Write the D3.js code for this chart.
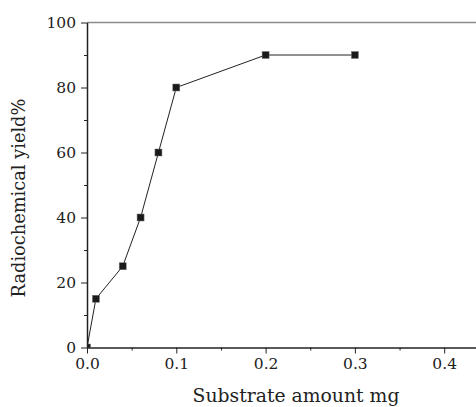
<!DOCTYPE html>
<html>
<head>
<meta charset="utf-8">
<script src="https://cdn.jsdelivr.net/npm/d3@7"></script>
<style>
  body { margin: 0; background: #fff; }
  svg text { font-family: "DejaVu Serif", serif; fill: #222; }
</style>
</head>
<body>
<div id="chart-area"></div>
<script>
// SVG Size
var width = 476,
	height = 407;

// data
var amount = [0, 0.01, 0.04, 0.06, 0.08, 0.1, 0.2, 0.3];
var yieldPct = [0, 15, 25, 40, 60, 80, 90, 90];
var xTicks = [0, 0.1, 0.2, 0.3, 0.4];
var yTicks = [0, 20, 40, 60, 80, 100];

var data = amount.map(function(d, i) { return { x: d, y: yieldPct[i] }; });

var plotLeft = 87, plotTop = 22.5, plotBottom = 347.5;

var xScale = d3.scaleLinear()
	.domain([0, 0.45])
	.range([plotLeft, plotLeft + 0.45 * 893]);

var yScale = d3.scaleLinear()
	.domain([0, 100])
	.range([plotBottom, plotTop]);

var svg = d3.select('#chart-area')
	.append("svg")
	.attr("width", width)
	.attr("height", height);

svg.append("clipPath")
	.attr("id", "plot-clip")
	.append("rect")
	.attr("x", plotLeft)
	.attr("y", plotTop)
	.attr("width", width - plotLeft)
	.attr("height", plotBottom - plotTop);

// top frame line
svg.append("line")
	.attr("x1", plotLeft).attr("x2", width)
	.attr("y1", plotTop).attr("y2", plotTop)
	.attr("stroke", "#8a8a8a")
	.attr("stroke-width", 1.5);

// line + markers
var plot = svg.append("g").attr("clip-path", "url(#plot-clip)");

var line = d3.line()
	.x(function(d) { return xScale(d.x); })
	.y(function(d) { return yScale(d.y); });

plot.append("path")
	.datum(data)
	.attr("d", line)
	.attr("fill", "none")
	.attr("stroke", "#222")
	.attr("stroke-width", 1);

plot.selectAll("rect.pt")
	.data(data)
	.enter()
	.append("rect")
	.attr("class", "pt")
	.attr("x", function(d) { return xScale(d.x) - 3.5; })
	.attr("y", function(d) { return yScale(d.y) - 3.5; })
	.attr("width", 7)
	.attr("height", 7)
	.attr("fill", "#1a1a1a")
	.attr("stroke", "#777")
	.attr("stroke-width", 0.5);

// minor ticks
var xMinor = d3.axisBottom(xScale)
	.tickValues([0.05, 0.15, 0.25, 0.35])
	.tickSize(3)
	.tickFormat("");
var yMinor = d3.axisLeft(yScale)
	.tickValues([10, 30, 50, 70, 90])
	.tickSize(3)
	.tickFormat("");

svg.append("g")
	.attr("transform", "translate(0," + plotBottom + ")")
	.call(xMinor)
	.call(function(g) { g.select(".domain").remove(); });

svg.append("g")
	.attr("transform", "translate(" + plotLeft + ",0)")
	.call(yMinor)
	.call(function(g) { g.select(".domain").remove(); });

// major axes
var xAxis = d3.axisBottom(xScale)
	.tickValues(xTicks)
	.tickSize(6)
	.tickSizeOuter(0)
	.tickPadding(4)
	.tickFormat(d3.format(".1f"));

var yAxis = d3.axisLeft(yScale)
	.tickValues(yTicks)
	.tickSize(6)
	.tickSizeOuter(0)
	.tickPadding(5);

svg.append("g")
	.attr("class", "axis x-axis")
	.attr("transform", "translate(0," + plotBottom + ")")
	.call(xAxis);

svg.append("g")
	.attr("class", "axis y-axis")
	.attr("transform", "translate(" + plotLeft + ",0)")
	.call(yAxis);

svg.selectAll(".axis text")
	.attr("font-size", 15.5)
	.attr("font-family", "DejaVu Serif");
svg.selectAll(".tick line").attr("stroke", "#222");
svg.selectAll(".domain").attr("stroke", "#222").attr("stroke-width", 1.5);

//x label
svg.append("text")
	.attr("text-anchor", "middle")
	.attr("x", 296)
	.attr("y", 402)
	.attr("font-size", 18.8)
	.text("Substrate amount mg");

//y label
svg.append("text")
	.attr("text-anchor", "middle")
	.attr("transform", "translate(25,198) rotate(-90)")
	.attr("font-size", 17.8)
	.text("Radiochemical yield%");
</script>
</body>
</html>
